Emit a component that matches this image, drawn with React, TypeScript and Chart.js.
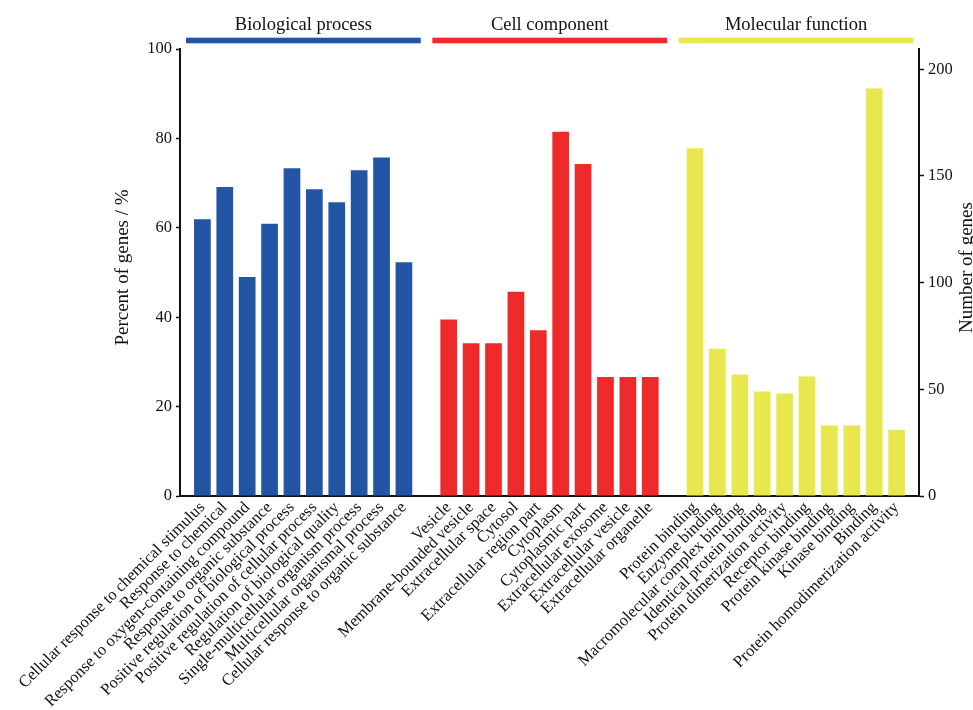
import React, { useEffect, useRef } from "react";
import { Chart, registerables } from "chart.js";

Chart.register(...registerables);

const bpLabels = [
  "Cellular response to chemical stimulus",
  "Response to chemical",
  "Response to oxygen-containing compound",
  "Response to organic substance",
  "Positive regulation of biological process",
  "Positive regulation of cellular process",
  "Regulation of biological quality",
  "Single-multicellular organism process",
  "Multicellular organismal process",
  "Cellular response to organic substance",
];
const ccLabels = [
  "Vesicle",
  "Membrane-bounded vesicle",
  "Extracellular space",
  "Cytosol",
  "Extracellular region part",
  "Cytoplasm",
  "Cytoplasmic part",
  "Extracellular exosome",
  "Extracellular vesicle",
  "Extracellular organelle",
];
const mfLabels = [
  "Protein binding",
  "Enzyme binding",
  "Macromolecular complex binding",
  "Identical protein binding",
  "Protein dimerization activity",
  "Receptor binding",
  "Protein kinase binding",
  "Kinase binding",
  "Binding",
  "Protein homodimerization activity",
];

const bpPercent = [61.9, 69.1, 49.0, 60.9, 73.3, 68.6, 65.7, 72.9, 75.7, 52.3];
const ccPercent = [39.5, 34.2, 34.2, 45.7, 37.1, 81.5, 74.3, 26.6, 26.6, 26.6];
const mfGenes = [163, 69, 57, 49, 48, 56, 33, 33, 191, 31];

const groupNames = ["Biological process", "Cell component", "Molecular function"];
const groupColors = ["#2355A5", "#EE2A2A", "#E8E84E"];

const leftTicks = [0, 20, 40, 60, 80, 100];
const rightTicks = [0, 50, 100, 150, 200];

const leftTitle = "Percent of genes / %";
const rightTitle = "Number of genes";

const FONT = "'Liberation Serif', 'Times New Roman', serif";

export default function App() {
  const ref = useRef<HTMLCanvasElement | null>(null);

  useEffect(() => {
    if (!ref.current) return;
    const labels = ["", ...bpLabels, "", ...ccLabels, "", ...mfLabels, ""];
    const n = labels.length;
    const bpStart = 1;
    const ccStart = bpStart + bpLabels.length + 1;
    const mfStart = ccStart + ccLabels.length + 1;

    const bpData: (number | null)[] = new Array(n).fill(null);
    bpPercent.forEach((v, i) => (bpData[bpStart + i] = v));
    const ccData: (number | null)[] = new Array(n).fill(null);
    ccPercent.forEach((v, i) => (ccData[ccStart + i] = v));
    const mfData: (number | null)[] = new Array(n).fill(null);
    mfGenes.forEach((v, i) => (mfData[mfStart + i] = v));

    const groups = [
      { name: groupNames[0], color: groupColors[0], first: bpStart, last: bpStart + bpLabels.length - 1 },
      { name: groupNames[1], color: groupColors[1], first: ccStart, last: ccStart + ccLabels.length - 1 },
      { name: groupNames[2], color: groupColors[2], first: mfStart, last: mfStart + mfLabels.length - 1 },
    ];

    const headerPlugin = {
      id: "headers",
      afterDraw(chart: any) {
        const { ctx, chartArea } = chart;
        const xs = chart.scales.x;
        const step = xs.getPixelForValue(1) - xs.getPixelForValue(0);
        ctx.save();
        groups.forEach((g) => {
          const x0 = xs.getPixelForValue(g.first) - 0.73 * step;
          const x1 = xs.getPixelForValue(g.last) + 0.75 * step;
          ctx.fillStyle = g.color;
          ctx.fillRect(x0, chartArea.top - 11.3, x1 - x0, 5.6);
          ctx.fillStyle = "#111";
          ctx.font = `18.5px ${FONT}`;
          ctx.textAlign = "center";
          ctx.textBaseline = "alphabetic";
          ctx.fillText(g.name, (x0 + x1) / 2, chartArea.top - 19.5);
        });
        const midY = (chartArea.top + chartArea.bottom) / 2 - 5;
        ctx.font = `19px ${FONT}`;
        ctx.textAlign = "center";
        ctx.textBaseline = "middle";
        ctx.fillStyle = "#111";
        // left axis title
        ctx.save();
        ctx.translate(chart.scales.y.left + 123, midY);
        ctx.rotate(-Math.PI / 2);
        ctx.fillText(leftTitle, 0, 0);
        ctx.restore();
        // right axis title (reads bottom-to-top)
        ctx.save();
        ctx.translate(chart.scales.y1.right - 5.5, midY);
        ctx.rotate(-Math.PI / 2);
        ctx.fillText(rightTitle, 0, 0);
        ctx.restore();
        ctx.restore();
      },
    };

    const chart = new Chart(ref.current, {
      type: "bar",
      data: {
        labels,
        datasets: [
          { label: groupNames[0], data: bpData, backgroundColor: groupColors[0], yAxisID: "y", grouped: false } as any,
          { label: groupNames[1], data: ccData, backgroundColor: groupColors[1], yAxisID: "y", grouped: false } as any,
          { label: groupNames[2], data: mfData, backgroundColor: groupColors[2], yAxisID: "y1", grouped: false } as any,
        ],
      },
      options: {
        animation: false,
        responsive: true,
        maintainAspectRatio: false,
        layout: { padding: { top: 49, left: 0, right: 0, bottom: 0 } },
        datasets: { bar: { barPercentage: 0.746, categoryPercentage: 1 } },
        plugins: { legend: { display: false }, tooltip: { enabled: false } },
        scales: {
          x: {
            type: "category",
            offset: false,
            grid: { display: false, drawTicks: false },
            border: { display: true, color: "#111", width: 2 },
            ticks: {
              autoSkip: false,
              maxRotation: 45,
              minRotation: 45,
              padding: 2,
              color: "#111",
              font: { family: FONT, size: 16.5 },
            },
            afterFit(scale: any) {
              scale.height = 214;
            },
          },
          y: {
            position: "left",
            min: 0,
            max: 100,
            afterBuildTicks(scale: any) {
              scale.ticks = leftTicks.map((v) => ({ value: v }));
            },
            grid: { display: true, drawOnChartArea: false, drawTicks: true, tickLength: 4, tickColor: "#111", tickWidth: 1.5 },
            border: { display: true, color: "#111", width: 2 },
            ticks: { color: "#111", padding: 4, font: { family: FONT, size: 16.5 } },
            afterFit(scale: any) {
              scale.width = 180;
            },
          },
          y1: {
            position: "right",
            min: 0,
            max: 209.5,
            afterBuildTicks(scale: any) {
              scale.ticks = rightTicks.map((v) => ({ value: v }));
            },
            grid: { display: true, drawOnChartArea: false, drawTicks: true, tickLength: 5, tickColor: "#111", tickWidth: 1.5 },
            border: { display: true, color: "#111", width: 2 },
            ticks: { color: "#111", padding: 4, font: { family: FONT, size: 16.5 } },
            afterFit(scale: any) {
              scale.width = 54;
            },
          },
        },
      },
      plugins: [headerPlugin],
    });
    return () => chart.destroy();
  }, []);

  return (
    <div style={{ position: "fixed", left: 0, top: 0, width: 973, height: 710, background: "#fff" }}>
      <canvas ref={ref} />
    </div>
  );
}
